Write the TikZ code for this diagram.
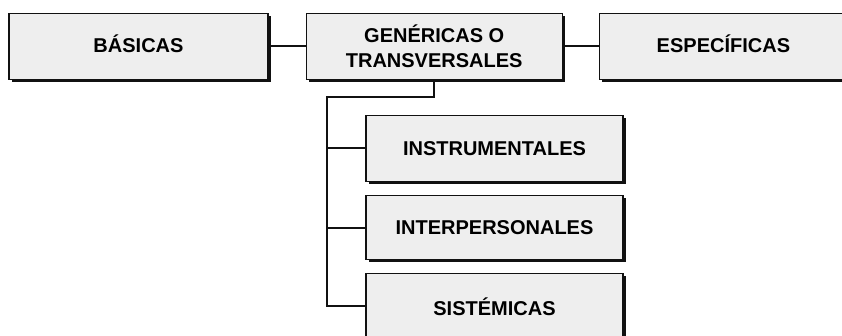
\documentclass[tikz,border=0pt]{standalone}
\usepackage{fontspec}
\setmainfont{Liberation Sans}
\usepackage{tikz}
\usetikzlibrary{positioning,shadows}
\definecolor{ink}{HTML}{111111}
\definecolor{grain}{HTML}{EEEEEE}
\tikzset{
  cbox/.style={rectangle, draw=ink, fill=grain, line width=1.2pt, align=center,
               inner sep=2pt, minimum height=66pt, font=\fontsize{20}{25}\selectfont\bfseries,
               drop shadow={shadow xshift=2.5pt, shadow yshift=-2.5pt, fill=ink, opacity=1}},
  lnk/.style={draw=ink, line width=2pt},
}
\begin{document}
\begin{tikzpicture}[x=1pt, y=-1pt, node distance=13pt]
  \useasboundingbox (0,0) rectangle (842,336);
  % top row
  \node[cbox, minimum width=259pt] (basicas) at (138.5,46.5) {\raisebox{5pt}{BÁSICAS}};
  \node[cbox, minimum width=256pt, right=37pt of basicas] (genericas) {GENÉRICAS O\\TRANSVERSALES};
  \node[cbox, minimum width=248pt, right=36pt of genericas] (especificas) {\raisebox{5pt}{ESPECÍFICAS}};
  % generic competences
  \node[cbox, minimum width=257pt] (instrumentales) at (494.5,148.5) {INSTRUMENTALES};
  \node[cbox, minimum width=257pt, minimum height=64pt, below=of instrumentales] (interpersonales) {INTERPERSONALES};
  \node[cbox, minimum width=257pt, minimum height=65pt, below=of interpersonales] (sistemicas) {SISTÉMICAS};
  \coordinate (jn) at (genericas.south |- 0,97);
  \coordinate (bus) at (327,97);
  \draw[lnk] (basicas) -- (genericas);
  \draw[lnk] (genericas) -- (especificas);
  \draw[lnk] (genericas.south) -- (jn) -- (bus) |- (sistemicas.west);
  \draw[lnk] (bus |- instrumentales.west) -- (instrumentales.west);
  \draw[lnk] (bus |- interpersonales.west) -- (interpersonales.west);
\end{tikzpicture}
\end{document}
